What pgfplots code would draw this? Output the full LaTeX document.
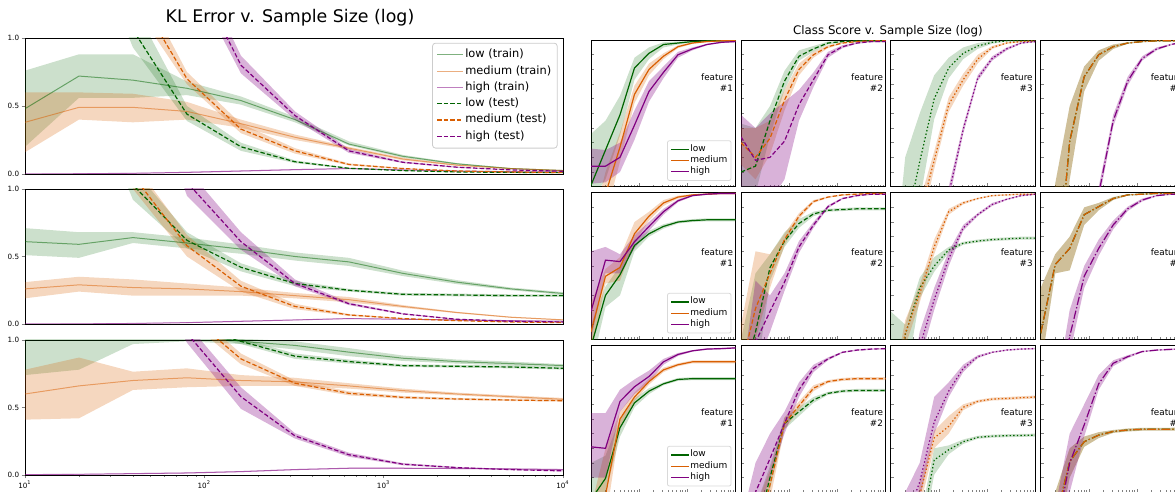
\documentclass[border=0pt]{standalone}
\usepackage{fontspec}
\setmainfont{DejaVu Sans}
\usepackage{pgfplots}
\usepackage{pgfplotstable}
\pgfplotsset{compat=1.18}
\usepgfplotslibrary{fillbetween}

\definecolor{cLow}{HTML}{006400}
\definecolor{cMed}{HTML}{D95F02}
\definecolor{cHigh}{HTML}{800080}

\tikzset{
  lnDsh/.style={dash pattern=on 2.2pt off 1.1pt},
  lnDot/.style={dash pattern=on 0.7pt off 1.1pt},
  lnDsd/.style={dash pattern=on 4.2pt off 1.1pt on 0.7pt off 1.1pt},
  lnSol/.style={solid},
}

% KL error panels: a,b,c = train (low, medium, high); d,e,f = test; *0/*1 = band
\pgfplotstableread{
x a a0 a1 b b0 b1 c c0 c1 d d0 d1 e e0 e1 f f0 f1
10 0.48 0.20 0.76 0.38 0.16 0.60 0.000 0.000 0.003 3 2.9 3.1 3 2.9 3.1 3 2.9 3.1
20 0.72 0.56 0.88 0.49 0.40 0.60 0.002 0.000 0.005 2 1.9 2.1 2.5 2.4 2.6 3 2.9 3.1
40 0.69 0.56 0.88 0.49 0.38 0.59 0.005 0.002 0.008 1.06 0.93 1.25 1.37 1.25 1.5 2.5 2.4 2.6
80 0.63 0.58 0.68 0.46 0.40 0.53 0.012 0.008 0.016 0.44 0.39 0.50 0.70 0.66 0.75 1.59 1.5 1.7
160 0.54 0.51 0.57 0.37 0.34 0.40 0.022 0.018 0.026 0.20 0.17 0.23 0.33 0.30 0.37 0.80 0.74 0.87
320 0.40 0.38 0.42 0.27 0.25 0.29 0.032 0.028 0.036 0.09 0.08 0.10 0.17 0.15 0.19 0.43 0.40 0.46
640 0.22 0.21 0.24 0.19 0.18 0.20 0.040 0.037 0.043 0.042 0.038 0.046 0.07 0.063 0.078 0.17 0.155 0.185
1280 0.13 0.12 0.14 0.11 0.10 0.12 0.030 0.027 0.033 0.025 0.022 0.028 0.04 0.036 0.044 0.086 0.08 0.092
2560 0.075 0.07 0.08 0.065 0.06 0.07 0.022 0.02 0.024 0.015 0.013 0.017 0.022 0.02 0.024 0.05 0.046 0.054
5120 0.04 0.037 0.043 0.04 0.037 0.043 0.017 0.015 0.019 0.012 0.01 0.014 0.015 0.013 0.017 0.03 0.028 0.032
10240 0.025 0.022 0.028 0.025 0.022 0.028 0.014 0.012 0.016 0.01 0.008 0.012 0.01 0.008 0.012 0.02 0.018 0.022
}\Ka
\pgfplotstableread{
x a a0 a1 b b0 b1 c c0 c1 d d0 d1 e e0 e1 f f0 f1
10 0.61 0.51 0.71 0.26 0.19 0.31 0.000 0.000 0.003 3 2.9 3.1 3 2.9 3.1 3 2.9 3.1
20 0.59 0.49 0.68 0.29 0.24 0.35 0.001 0.000 0.004 2 1.9 2.1 2.5 2.4 2.6 3 2.9 3.1
40 0.64 0.60 0.68 0.27 0.21 0.33 0.004 0.002 0.007 1.03 0.92 1.15 1.1 1.0 1.2 2.2 2.1 2.3
80 0.60 0.56 0.64 0.26 0.21 0.30 0.010 0.007 0.013 0.62 0.56 0.68 0.58 0.50 0.66 1.05 0.95 1.15
160 0.555 0.52 0.59 0.24 0.21 0.27 0.020 0.016 0.024 0.42 0.39 0.45 0.28 0.24 0.32 0.61 0.55 0.68
320 0.50 0.47 0.53 0.21 0.19 0.23 0.030 0.027 0.033 0.30 0.28 0.32 0.13 0.11 0.15 0.30 0.28 0.33
640 0.46 0.43 0.49 0.18 0.16 0.20 0.040 0.037 0.043 0.25 0.24 0.26 0.067 0.06 0.074 0.15 0.14 0.16
1280 0.375 0.355 0.395 0.13 0.12 0.14 0.035 0.032 0.038 0.22 0.21 0.23 0.04 0.036 0.044 0.075 0.07 0.08
2560 0.31 0.295 0.325 0.085 0.08 0.09 0.030 0.027 0.033 0.215 0.205 0.225 0.025 0.022 0.028 0.035 0.032 0.038
5120 0.26 0.25 0.27 0.05 0.046 0.054 0.025 0.022 0.028 0.21 0.20 0.22 0.015 0.013 0.017 0.02 0.018 0.022
10240 0.225 0.215 0.235 0.03 0.027 0.033 0.020 0.018 0.022 0.21 0.20 0.22 0.01 0.008 0.012 0.015 0.013 0.017
}\Kb
\pgfplotstableread{
x a a0 a1 b b0 b1 c c0 c1 d d0 d1 e e0 e1 f f0 f1
10 1.10 0.74 1.30 0.60 0.41 0.78 0.003 0.000 0.006 3 2.9 3.1 3 2.9 3.1 3 2.9 3.1
20 1.15 0.78 1.35 0.66 0.42 0.87 0.005 0.002 0.008 2 1.9 2.1 2 1.9 2.1 2.5 2.4 2.6
40 1.10 0.97 1.25 0.70 0.63 0.765 0.010 0.006 0.014 1.5 1.4 1.6 1.5 1.4 1.6 1.8 1.7 1.9
80 1.05 0.99 1.15 0.72 0.65 0.79 0.015 0.011 0.019 1.10 1.05 1.15 1.20 1.15 1.25 1.05 0.98 1.12
160 0.99 0.97 1.01 0.70 0.66 0.74 0.025 0.021 0.029 0.99 0.97 1.01 0.86 0.82 0.90 0.58 0.49 0.65
320 0.96 0.93 0.99 0.69 0.66 0.72 0.040 0.036 0.044 0.88 0.86 0.90 0.68 0.66 0.70 0.29 0.27 0.31
640 0.91 0.88 0.94 0.66 0.64 0.68 0.050 0.046 0.054 0.84 0.825 0.855 0.605 0.59 0.62 0.15 0.135 0.165
1280 0.865 0.845 0.885 0.625 0.61 0.64 0.050 0.046 0.054 0.81 0.80 0.82 0.575 0.565 0.585 0.08 0.072 0.088
2560 0.84 0.825 0.855 0.60 0.59 0.61 0.048 0.044 0.052 0.805 0.795 0.815 0.563 0.555 0.571 0.055 0.05 0.06
5120 0.825 0.81 0.84 0.58 0.57 0.59 0.045 0.041 0.049 0.80 0.79 0.81 0.555 0.548 0.562 0.04 0.036 0.044
10240 0.81 0.80 0.82 0.56 0.55 0.57 0.040 0.036 0.044 0.79 0.78 0.80 0.55 0.544 0.556 0.03 0.027 0.033
}\Kc

% class score panels: l = low, m = medium, h = high; *0/*1 = band
\pgfplotstableread{
x l l0 l1 m m0 m1 h h0 h1
10 0.01 -0.1 0.36 -0.5 -0.7 -0.3 0.14 0.02 0.26
20 0.25 0.05 0.45 -0.05 -0.2 0.1 0.14 0.03 0.25
40 0.49 0.35 0.62 0.27 0.17 0.37 0.20 0.10 0.30
80 0.81 0.73 0.88 0.63 0.57 0.69 0.42 0.32 0.52
160 0.91 0.87 0.95 0.80 0.76 0.84 0.65 0.58 0.72
320 0.97 0.95 0.985 0.89 0.87 0.91 0.78 0.74 0.82
640 0.98 0.97 0.99 0.955 0.945 0.965 0.90 0.88 0.92
1280 0.99 0.985 0.995 0.98 0.975 0.985 0.94 0.93 0.95
2560 0.995 0.99 1.0 0.99 0.985 0.995 0.97 0.965 0.975
5120 0.995 0.99 1.0 0.995 0.99 1.0 0.985 0.98 0.99
10240 0.995 0.99 1.0 0.995 0.99 1.0 0.99 0.985 0.995
}\Taa
\pgfplotstableread{
x l l0 l1 m m0 m1 h h0 h1
10 0.10 -0.1 0.43 0.30 0.15 0.40 0.34 0.0 0.49
20 0.14 -0.05 0.40 0.20 0.05 0.40 0.18 0.0 0.40
40 0.45 0.35 0.55 0.33 0.22 0.45 0.20 -0.1 0.50
80 0.72 0.66 0.79 0.59 0.52 0.66 0.31 0.05 0.58
160 0.89 0.86 0.93 0.80 0.76 0.84 0.56 0.45 0.66
320 0.94 0.92 0.96 0.90 0.88 0.92 0.73 0.68 0.78
640 0.98 0.97 0.99 0.955 0.945 0.965 0.90 0.88 0.92
1280 0.99 0.985 0.995 0.98 0.975 0.985 0.955 0.945 0.965
2560 0.995 0.99 1.0 0.99 0.985 0.995 0.98 0.975 0.985
5120 0.995 0.99 1.0 0.995 0.99 1.0 0.99 0.985 0.995
10240 0.995 0.99 1.0 0.995 0.99 1.0 0.99 0.985 0.995
}\Tab
\pgfplotstableread{
x l l0 l1 m m0 m1 h h0 h1
10 -1.0 -1.2 -0.8 -1.0 -1.1 -0.9 -1.0 -1.1 -0.9
20 -0.3 -0.6 0.2 -0.8 -0.9 -0.7 -1.0 -1.1 -0.9
40 0.17 -0.1 0.5 -0.2 -0.3 -0.1 -0.9 -1.0 -0.8
80 0.60 0.46 0.76 0.18 0.12 0.24 -0.5 -0.6 -0.4
160 0.81 0.74 0.88 0.56 0.51 0.61 -0.05 -0.1 0.0
320 0.91 0.87 0.95 0.73 0.69 0.77 0.39 0.36 0.42
640 0.96 0.94 0.98 0.87 0.84 0.90 0.74 0.72 0.76
1280 0.985 0.975 0.995 0.95 0.94 0.96 0.875 0.86 0.89
2560 0.995 0.99 1.0 0.98 0.975 0.985 0.94 0.93 0.95
5120 0.995 0.99 1.0 0.99 0.985 0.995 0.98 0.975 0.985
10240 0.995 0.99 1.0 0.995 0.99 1.0 0.99 0.985 0.995
}\Tac
\pgfplotstableread{
x l l0 l1 m m0 m1 h h0 h1
10 -1.5 -1.7 -1.3 -1.5 -1.7 -1.3 -1.0 -1.1 -0.9
20 -0.8 -1.0 0.02 -0.8 -1.0 0.02 -1.0 -1.1 -0.9
40 0.31 0.05 0.55 0.31 0.05 0.55 -0.9 -1.0 -0.8
80 0.75 0.65 0.82 0.75 0.65 0.82 -0.6 -0.7 -0.5
160 0.90 0.86 0.93 0.90 0.86 0.93 -0.05 -0.1 0.0
320 0.955 0.94 0.97 0.955 0.94 0.97 0.45 0.41 0.49
640 0.98 0.975 0.985 0.98 0.975 0.985 0.72 0.69 0.75
1280 0.99 0.985 0.995 0.99 0.985 0.995 0.875 0.86 0.89
2560 0.995 0.99 1.0 0.995 0.99 1.0 0.94 0.93 0.95
5120 0.995 0.99 1.0 0.995 0.99 1.0 0.97 0.965 0.975
10240 0.995 0.99 1.0 0.995 0.99 1.0 0.99 0.985 0.995
}\Tad
\pgfplotstableread{
x l l0 l1 m m0 m1 h h0 h1
10 -0.05 -0.2 0.1 0.05 -0.1 0.25 0.19 0.0 0.60
20 0.30 0.22 0.36 0.43 0.38 0.48 0.54 0.45 0.63
40 0.44 0.30 0.50 0.49 0.40 0.56 0.53 0.45 0.58
80 0.64 0.60 0.68 0.72 0.66 0.80 0.665 0.62 0.71
160 0.72 0.70 0.74 0.84 0.81 0.87 0.77 0.74 0.80
320 0.77 0.755 0.785 0.93 0.91 0.95 0.87 0.85 0.89
640 0.80 0.79 0.81 0.97 0.96 0.98 0.945 0.935 0.955
1280 0.81 0.80 0.82 0.985 0.98 0.99 0.98 0.975 0.985
2560 0.815 0.805 0.825 0.99 0.985 0.995 0.99 0.985 0.995
5120 0.815 0.805 0.825 0.995 0.99 1.0 0.995 0.99 1.0
10240 0.815 0.805 0.825 0.995 0.99 1.0 0.995 0.99 1.0
}\Tba
\pgfplotstableread{
x l l0 l1 m m0 m1 h h0 h1
10 -0.3 -0.6 0.0 -0.2 -0.5 0.1 -0.6 -0.8 -0.3
20 0.05 -0.3 0.45 0.21 0.0 0.60 -0.02 -0.2 0.40
40 0.49 0.40 0.58 0.45 0.35 0.58 0.19 0.05 0.30
80 0.67 0.63 0.73 0.68 0.64 0.72 0.39 0.33 0.45
160 0.79 0.76 0.82 0.84 0.82 0.86 0.63 0.59 0.67
320 0.855 0.84 0.87 0.94 0.93 0.95 0.78 0.76 0.80
640 0.88 0.87 0.89 0.97 0.965 0.975 0.905 0.895 0.915
1280 0.885 0.875 0.895 0.985 0.98 0.99 0.96 0.955 0.965
2560 0.89 0.88 0.90 0.99 0.985 0.995 0.98 0.975 0.985
5120 0.89 0.88 0.90 0.995 0.99 1.0 0.99 0.985 0.995
10240 0.89 0.88 0.90 0.995 0.99 1.0 0.99 0.985 0.995
}\Tbb
\pgfplotstableread{
x l l0 l1 m m0 m1 h h0 h1
10 -0.4 -0.8 0.19 -0.5 -0.6 -0.4 -1.0 -1.1 -0.9
20 0.03 -0.3 0.10 0.04 -0.05 0.13 -0.6 -0.7 -0.5
40 0.35 0.28 0.42 0.31 0.25 0.37 -0.05 -0.15 0.05
80 0.50 0.46 0.56 0.63 0.58 0.68 0.27 0.20 0.35
160 0.61 0.59 0.63 0.87 0.85 0.89 0.55 0.50 0.60
320 0.655 0.645 0.665 0.93 0.92 0.94 0.76 0.74 0.78
640 0.67 0.66 0.68 0.96 0.955 0.965 0.85 0.84 0.86
1280 0.68 0.67 0.69 0.98 0.975 0.985 0.92 0.91 0.93
2560 0.685 0.675 0.695 0.985 0.98 0.99 0.955 0.95 0.96
5120 0.69 0.68 0.70 0.99 0.985 0.995 0.98 0.975 0.985
10240 0.69 0.68 0.70 0.99 0.985 0.995 0.99 0.985 0.995
}\Tbc
\pgfplotstableread{
x l l0 l1 m m0 m1 h h0 h1
10 0.04 -0.2 0.35 0.04 -0.2 0.35 -1.0 -1.1 -0.9
20 0.51 0.45 0.58 0.51 0.45 0.58 -0.5 -0.6 -0.4
40 0.62 0.47 0.70 0.62 0.47 0.70 0.02 -0.1 0.2
80 0.85 0.78 0.90 0.85 0.78 0.90 0.43 0.35 0.50
160 0.905 0.88 0.93 0.905 0.88 0.93 0.62 0.57 0.68
320 0.96 0.95 0.97 0.96 0.95 0.97 0.78 0.75 0.81
640 0.985 0.98 0.99 0.985 0.98 0.99 0.89 0.875 0.905
1280 0.99 0.985 0.995 0.99 0.985 0.995 0.95 0.94 0.96
2560 0.995 0.99 1.0 0.995 0.99 1.0 0.98 0.975 0.985
5120 0.995 0.99 1.0 0.995 0.99 1.0 0.99 0.985 0.995
10240 0.995 0.99 1.0 0.995 0.99 1.0 0.99 0.985 0.995
}\Tbd
\pgfplotstableread{
x l l0 l1 m m0 m1 h h0 h1
10 -0.05 -0.2 0.2 -0.3 -0.5 -0.1 0.31 0.10 0.54
20 0.095 0.0 0.25 -0.02 -0.2 0.3 0.30 0.10 0.54
40 0.44 0.38 0.50 0.50 0.45 0.55 0.62 0.55 0.70
80 0.61 0.58 0.64 0.65 0.62 0.68 0.72 0.67 0.77
160 0.69 0.67 0.71 0.755 0.735 0.775 0.79 0.75 0.83
320 0.74 0.73 0.75 0.835 0.82 0.85 0.89 0.87 0.91
640 0.77 0.76 0.78 0.87 0.86 0.88 0.94 0.93 0.95
1280 0.775 0.765 0.785 0.89 0.88 0.90 0.965 0.96 0.97
2560 0.775 0.765 0.785 0.89 0.88 0.90 0.977 0.972 0.982
5120 0.775 0.765 0.785 0.89 0.88 0.90 0.98 0.975 0.985
10240 0.775 0.765 0.785 0.89 0.88 0.90 0.985 0.98 0.99
}\Tca
\pgfplotstableread{
x l l0 l1 m m0 m1 h h0 h1
10 -0.8 -0.9 -0.7 -0.8 -0.9 -0.7 -0.5 -0.8 -0.2
20 -0.3 -0.5 -0.1 -0.3 -0.5 -0.1 0.0 -0.2 0.2
40 0.10 0.02 0.18 0.05 -0.05 0.15 0.23 0.10 0.40
80 0.47 0.43 0.51 0.47 0.43 0.51 0.47 0.40 0.55
160 0.55 0.52 0.58 0.59 0.56 0.62 0.70 0.65 0.75
320 0.63 0.61 0.65 0.71 0.69 0.73 0.845 0.82 0.87
640 0.675 0.665 0.685 0.755 0.745 0.765 0.91 0.90 0.92
1280 0.69 0.68 0.70 0.77 0.76 0.78 0.955 0.95 0.96
2560 0.695 0.685 0.705 0.775 0.765 0.785 0.97 0.965 0.975
5120 0.695 0.685 0.705 0.775 0.765 0.785 0.977 0.972 0.982
10240 0.695 0.685 0.705 0.775 0.765 0.785 0.98 0.975 0.985
}\Tcb
\pgfplotstableread{
x l l0 l1 m m0 m1 h h0 h1
10 -1.0 -1.1 -0.9 -1.0 -1.1 -0.9 -0.8 -0.9 -0.7
20 -1.0 -1.1 -0.9 -0.6 -0.7 -0.5 -0.2 -0.4 0.0
40 -0.3 -0.4 -0.2 -0.02 -0.1 0.06 0.07 -0.05 0.2
80 0.22 0.12 0.30 0.37 0.30 0.42 0.48 0.40 0.65
160 0.29 0.26 0.32 0.45 0.40 0.52 0.69 0.65 0.75
320 0.345 0.33 0.36 0.58 0.56 0.60 0.845 0.82 0.87
640 0.375 0.365 0.385 0.62 0.61 0.63 0.925 0.915 0.935
1280 0.383 0.373 0.393 0.636 0.626 0.646 0.955 0.95 0.96
2560 0.386 0.376 0.396 0.64 0.63 0.65 0.97 0.965 0.975
5120 0.388 0.378 0.398 0.645 0.635 0.655 0.977 0.972 0.982
10240 0.39 0.38 0.40 0.65 0.64 0.66 0.98 0.975 0.985
}\Tcc
\pgfplotstableread{
x l l0 l1 m m0 m1 h h0 h1
10 -1.0 -1.1 -0.9 -1.0 -1.1 -0.9 -1.0 -1.1 -0.9
20 -0.2 -0.4 0.0 -0.2 -0.4 0.0 -0.3 -0.5 -0.1
40 0.21 0.10 0.30 0.21 0.10 0.30 0.20 0.0 0.40
80 0.345 0.31 0.38 0.345 0.31 0.38 0.46 0.38 0.60
160 0.39 0.37 0.41 0.39 0.37 0.41 0.74 0.70 0.80
320 0.415 0.405 0.425 0.415 0.405 0.425 0.88 0.86 0.90
640 0.425 0.415 0.435 0.425 0.415 0.435 0.925 0.915 0.935
1280 0.43 0.42 0.44 0.43 0.42 0.44 0.96 0.955 0.965
2560 0.43 0.42 0.44 0.43 0.42 0.44 0.97 0.965 0.975
5120 0.43 0.42 0.44 0.43 0.42 0.44 0.975 0.97 0.98
10240 0.435 0.425 0.445 0.435 0.425 0.445 0.98 0.975 0.985
}\Tcd

% shaded band between two columns
\newcommand{\band}[5]{%
  \addplot[draw=none, forget plot, name path=lo#2] table[x=x, y=#2]{#1};
  \addplot[draw=none, forget plot, name path=hi#2] table[x=x, y=#3]{#1};
  \addplot[fill=#4, fill opacity=#5, draw=none, forget plot] fill between[of=lo#2 and hi#2];
}
\newcommand{\klbody}[1]{%
  \band{#1}{a0}{a1}{cLow}{0.2}
  \band{#1}{b0}{b1}{cMed}{0.25}
  \band{#1}{c0}{c1}{cHigh}{0.3}
  \band{#1}{d0}{d1}{cLow}{0.2}
  \band{#1}{e0}{e1}{cMed}{0.25}
  \band{#1}{f0}{f1}{cHigh}{0.3}
  \addplot[color=cLow, draw opacity=0.5, line width=0.5pt] table[x=x, y=a]{#1};
  \addplot[color=cMed, draw opacity=0.5, line width=0.5pt] table[x=x, y=b]{#1};
  \addplot[color=cHigh, draw opacity=0.5, line width=0.5pt] table[x=x, y=c]{#1};
  \addplot[color=cLow, line width=0.6pt, lnDsh] table[x=x, y=d]{#1};
  \addplot[color=cMed, line width=0.6pt, lnDsh] table[x=x, y=e]{#1};
  \addplot[color=cHigh, line width=0.6pt, lnDsh] table[x=x, y=f]{#1};
}
% one KL panel: y position, extra axis options, table, extra content
\newcommand{\klpanel}[4]{%
  \begin{axis}[scale only axis, xmode=log, xmin=10, xmax=10000, ymin=0, ymax=1,
    anchor=south west, at={(12.5pt,#1)}, width=269pt, height=67.5pt,
    axis line style={line width=0.4pt}, tick style={line width=0.35pt},
    tick align=outside, tick pos=left,
    ytick={0,0.5,1}, yticklabels={0.0,0.5,1.0},
    yticklabel style={font=\fontsize{3.6}{4}\selectfont, inner sep=1pt},
    xticklabel style={font=\fontsize{3.6}{4}\selectfont, inner sep=1pt},
    major tick length=1.75pt, minor tick length=1pt,
    legend style={at={(0.99,0.965)}, anchor=north east, font=\fontsize{5.7}{6.5}\selectfont,
      draw=black!20, rounded corners=1.5pt, row sep=0.3pt, inner sep=2pt,
      nodes={inner sep=1pt}},
    legend cell align=left,
    legend image code/.code={\draw[##1] (0pt,0pt) -- (12.8pt,0pt);},
    #2]
  \klbody{#3}
  #4
  \end{axis}}
% one class score panel: table, line style, x, y, extra content
\newcommand{\cspanel}[5]{%
  \begin{axis}[scale only axis, xmode=log, xmin=10, xmax=10000, ymin=0, ymax=1,
    anchor=south west, at={(#3,#4)}, width=72.25pt, height=73.3pt,
    axis line style={line width=0.4pt}, tick style={line width=0.35pt},
    tick align=inside, tick pos=left,
    ytick={0,0.1,...,1}, yticklabels={}, xtick={10,100,1000,10000}, xticklabels={},
    major tick length=1.7pt, minor tick length=1pt,
    legend style={at={(0.972,0.04)}, anchor=south east,
      font=\fontsize{4.5}{5}\selectfont, draw=black!15, rounded corners=1pt,
      row sep=0pt, inner sep=1.5pt, nodes={inner sep=0.35pt}},
    legend cell align=left,
    legend image code/.code={\draw[##1] (0pt,0pt) -- (9pt,0pt);}]
  \band{#1}{l0}{l1}{cLow}{0.2}
  \band{#1}{m0}{m1}{cMed}{0.25}
  \band{#1}{h0}{h1}{cHigh}{0.3}
  \addplot[color=cLow, line width=0.6pt, #2] table[x=x, y=l]{#1};
  \addplot[color=cMed, line width=0.6pt, #2] table[x=x, y=m]{#1};
  \addplot[color=cHigh, line width=0.6pt, #2] table[x=x, y=h]{#1};
  #5
  \end{axis}}
\newcommand{\feat}[2]{\node[align=right, anchor=east, inner sep=0pt,
  font=\fontsize{4.4}{5.4}\selectfont] at (rel axis cs:0.985,#1) {feature\\\##2};}

\begin{document}
\begin{tikzpicture}
\node[font=\fontsize{8.7}{10}\selectfont] at (145pt,237pt) {KL Error v. Sample Size (log)};
\node[font=\fontsize{5.9}{7}\selectfont] at (444pt,230.5pt) {Class Score v. Sample Size (log)};

\klpanel{159pt}{height=68pt, xmajorticks=false, xminorticks=false}{\Ka}{%
  \legend{low (train), medium (train), high (train), low (test), medium (test), high (test)}}
\klpanel{84pt}{xmajorticks=false, xminorticks=false}{\Kb}{}
\klpanel{8.5pt}{xtick={10,100,1000,10000},
  xticklabels={10\textsuperscript{1},10\textsuperscript{2},10\textsuperscript{3},10\textsuperscript{4}}}{\Kc}{}

% class score grid
\cspanel{\Taa}{lnSol}{295.5pt}{152.65pt}{\feat{0.71}{1}\legend{low,medium,high}}
\cspanel{\Tab}{lnDsh}{370.5pt}{152.65pt}{\feat{0.71}{2}}
\cspanel{\Tac}{lnDot}{445.35pt}{152.65pt}{\feat{0.71}{3}}
\cspanel{\Tad}{lnDsd}{520.35pt}{152.65pt}{\feat{0.71}{4}}

\cspanel{\Tba}{lnSol}{295.5pt}{76.35pt}{\feat{0.555}{1}\legend{low,medium,high}}
\cspanel{\Tbb}{lnDsh}{370.5pt}{76.35pt}{\feat{0.555}{2}}
\cspanel{\Tbc}{lnDot}{445.35pt}{76.35pt}{\feat{0.555}{3}}
\cspanel{\Tbd}{lnDsd}{520.35pt}{76.35pt}{\feat{0.555}{4}}

\cspanel{\Tca}{lnSol}{295.5pt}{-0.15pt}{\feat{0.51}{1}\legend{low,medium,high}}
\cspanel{\Tcb}{lnDsh}{370.5pt}{-0.15pt}{\feat{0.51}{2}}
\cspanel{\Tcc}{lnDot}{445.35pt}{-0.15pt}{\feat{0.51}{3}}
\cspanel{\Tcd}{lnDsd}{520.35pt}{-0.15pt}{\feat{0.51}{4}}

\pgfresetboundingbox
\path[use as bounding box] (0,0) rectangle (587.5pt,246pt);
\end{tikzpicture}
\end{document}
